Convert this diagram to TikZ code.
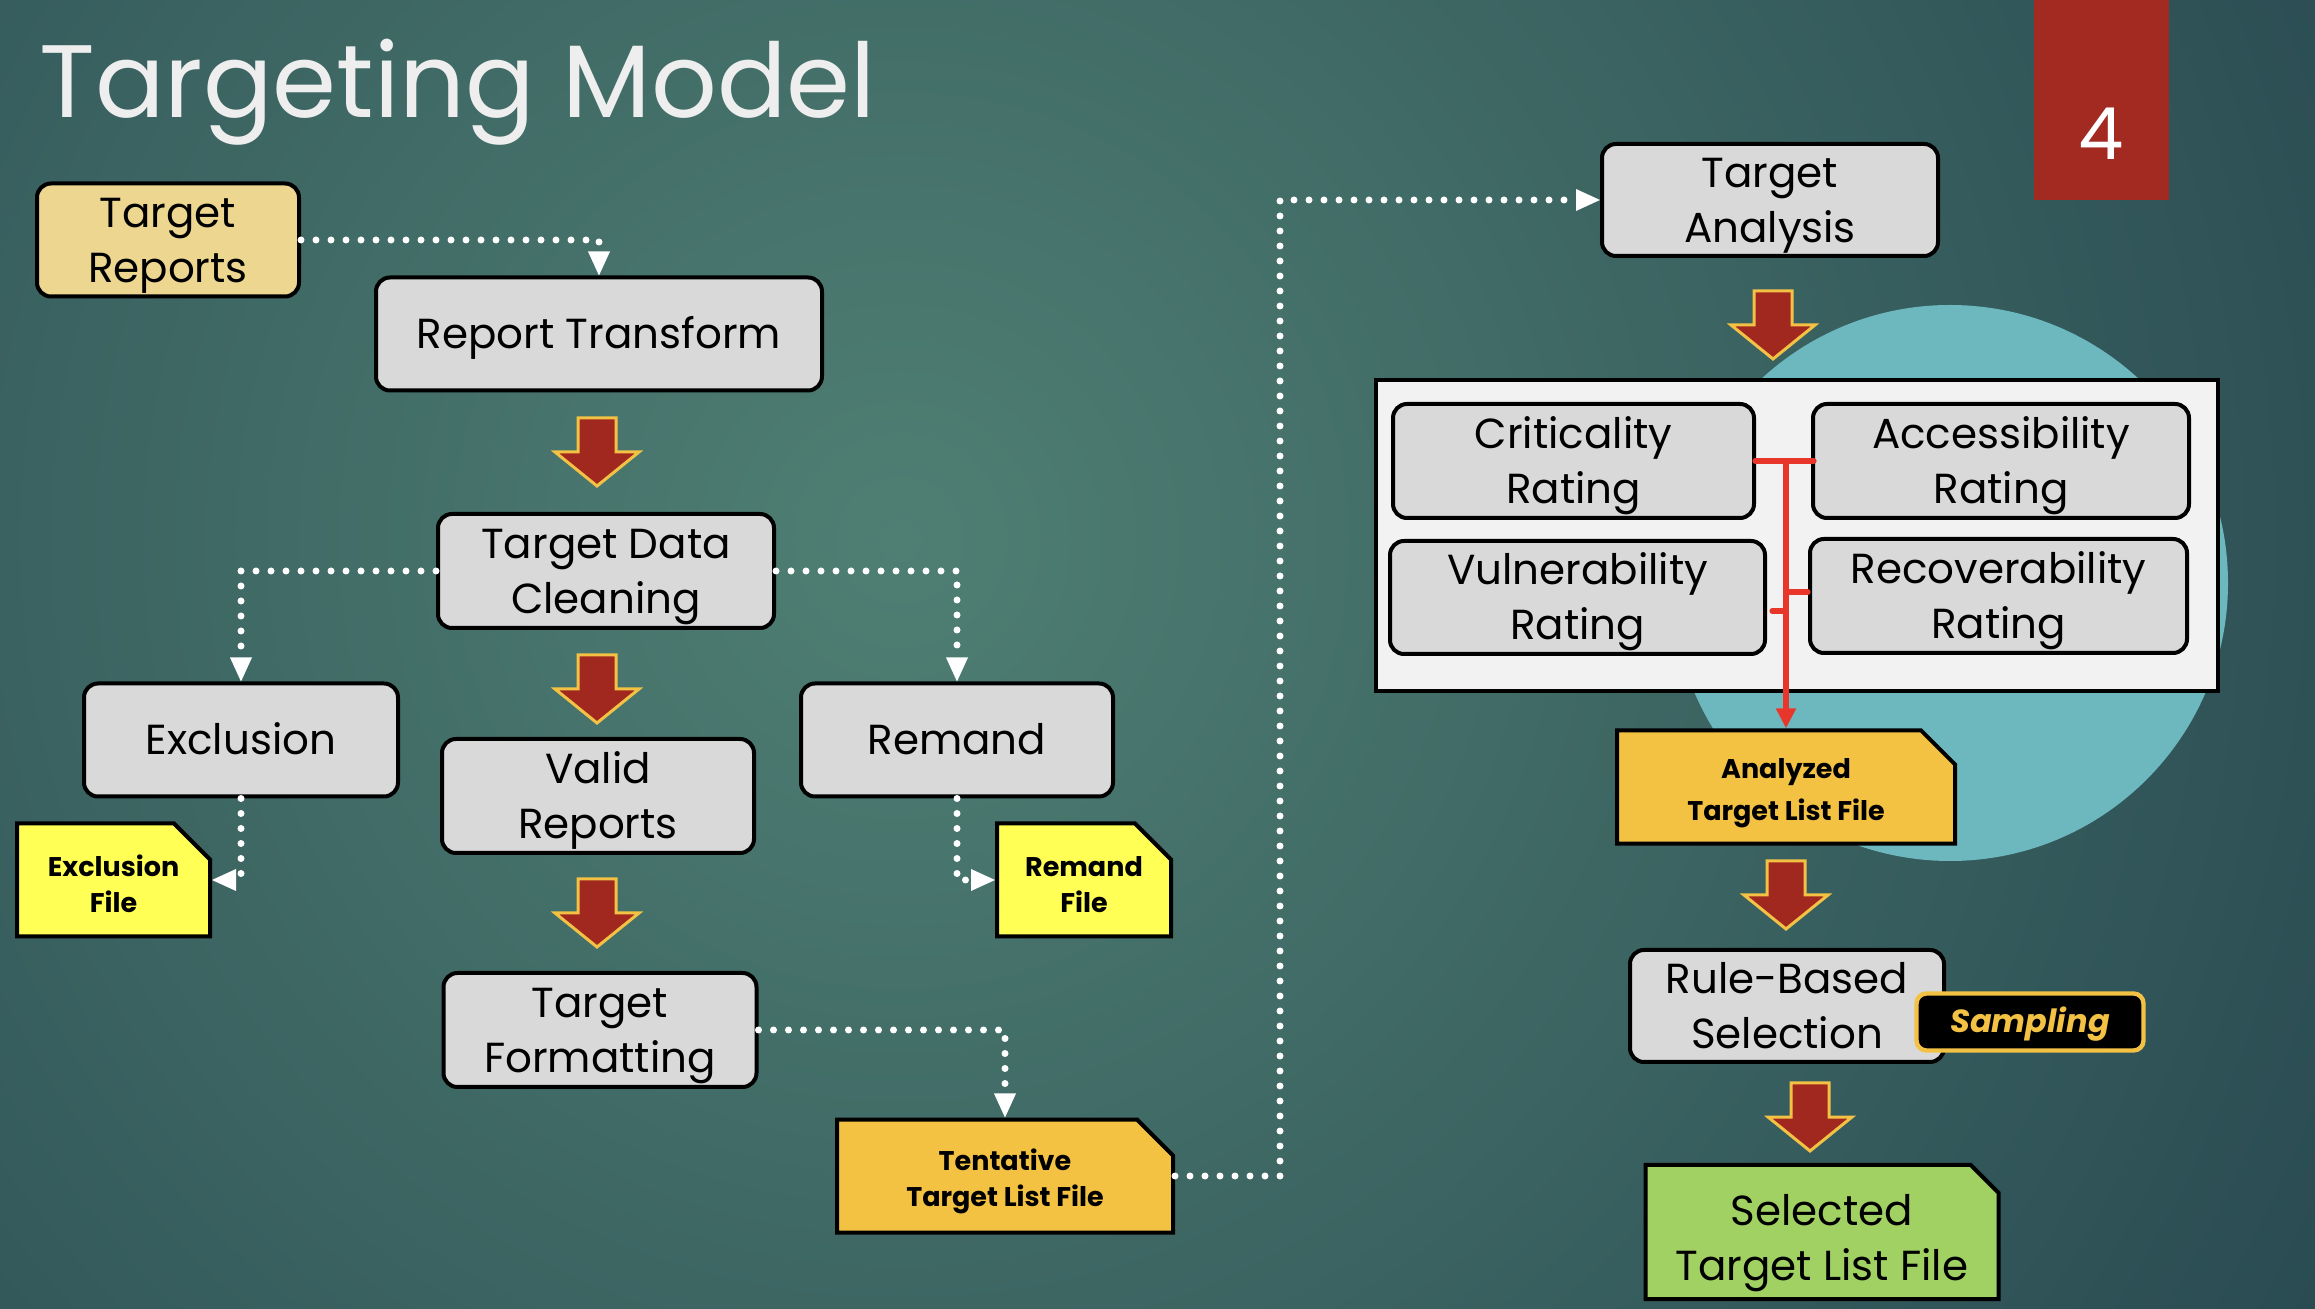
\documentclass[tikz,border=0pt]{standalone}
\usepackage{fontspec}
\setmainfont{Poppins}
\usetikzlibrary{arrows.meta,shapes.misc}
\definecolor{bgdark}{HTML}{1E3B48}
\definecolor{bglight}{HTML}{4F7F73}
\definecolor{boxgray}{HTML}{D9D9D9}
\definecolor{khaki}{HTML}{EDD690}
\definecolor{fileyellow}{HTML}{FFFF55}
\definecolor{fileorange}{HTML}{F4C243}
\definecolor{filegreen}{HTML}{A1D063}
\definecolor{tabred}{HTML}{A22A21}
\definecolor{arrowred}{HTML}{A0281F}
\definecolor{arrowgold}{HTML}{F3C244}
\definecolor{linered}{HTML}{E8372A}
\definecolor{teal}{HTML}{6CB8BE}
\definecolor{panel}{HTML}{F2F2F2}
\definecolor{titlewhite}{HTML}{EEEEEE}
% fixed line metrics (struts)
\newcommand\lx{\rule[-6.45pt]{0pt}{27.5pt}}
\newcommand\fx{\rule[-1.55pt]{0pt}{17.7pt}}
\newcommand\gx{\rule[-0.5pt]{0pt}{27.5pt}}
\newcommand\smx{\rule[-4pt]{0pt}{19.2pt}}
\begin{document}
\begin{tikzpicture}[x=0.5pt,y=-0.5pt,
  proc/.style={draw=black, line width=2pt, fill=boxgray, rounded corners=7pt, align=center,
    inner sep=0pt, text=black, font=\fontsize{21}{27.5}\selectfont},
  filebox/.style={chamfered rectangle, chamfered rectangle corners=north east,
    chamfered rectangle xsep=9pt, chamfered rectangle ysep=9pt, draw=black, line width=2pt,
    align=center, inner sep=0pt, text=black, font=\bfseries\fontsize{13.5}{17.7}\selectfont},
  dotconn/.style={draw=white, line width=3.5pt, line cap=round, dash pattern=on 0pt off 7.5pt,
    -{Triangle[length=12pt,width=11pt,fill=white,line width=0pt]}},
  redconn/.style={draw=linered, line width=2.6pt, line cap=round},
  blockarrow/.pic={\draw[fill=arrowred, draw=arrowgold, line width=1.5pt, line join=miter]
    (-19,0) -- (19,0) -- (19,34) -- (42,34) -- (0,68) -- (-42,34) -- (-19,34) -- cycle;}
]
\useasboundingbox (0,0) rectangle (2315,1309);
\fill[bgdark] (0,0) rectangle (2315,1309);
\begin{scope}
  \clip (0,0) rectangle (2315,1309);
  \shade[inner color=bglight, outer color=bgdark] (900,540) circle[radius=1050pt];
\end{scope}

% title and tab
\node[anchor=base west, inner sep=0pt, text=titlewhite, font=\fontsize{51.5}{60}\selectfont] (title) at (39,118) {Targeting Model};
\fill[tabred] (2034,0) rectangle (2169,200);
\node[text=white, font=\fontsize{36}{40}\selectfont, inner sep=0pt] (pagenum) at (2101,134) {4};

% teal circle
\fill[teal] (1950,583) circle[radius=139pt];

% left column
\node[proc, fill=khaki, minimum width=131pt, minimum height=56.5pt] (tr) at (168,240) {\lx Target\\\lx Reports};
\node[proc, minimum width=223pt, minimum height=56.5pt] (rt) at (599,334) {\lx Report Transform};
\node[proc, minimum width=168pt, minimum height=57pt] (tdc) at (606,571) {\lx Target Data\\\lx Cleaning};
\node[proc, minimum width=157pt, minimum height=56.5pt] (excl) at (241,740) {\lx Exclusion};
\node[proc, minimum width=156pt, minimum height=57pt] (valid) at (598,796) {\lx Valid\\\lx Reports};
\node[proc, minimum width=156pt, minimum height=56.5pt] (remand) at (957,740) {\lx Remand};
\node[filebox, fill=fileyellow, minimum width=96.5pt, minimum height=56.5pt] (exfile) at (113.5,880) {\fx Exclusion\\\fx File};
\node[filebox, fill=fileyellow, minimum width=87pt, minimum height=56.5pt] (refile) at (1084,880) {\fx Remand\\\fx File};
\node[proc, minimum width=156.5pt, minimum height=57pt] (tform) at (600,1030) {\lx Target\\\lx Formatting};
\node[filebox, fill=fileorange, minimum width=168pt, minimum height=56.5pt] (tent) at (1005,1176) {\fx Tentative\\\fx Target List File};

% right column
\node[proc, minimum width=168pt, minimum height=56pt] (ta) at (1770,200) {\lx Target\\\lx Analysis};
\node[draw=black, line width=1.6pt, fill=panel, minimum width=421pt, minimum height=155.5pt, inner sep=0pt] (panelbox) at (1797,535.5) {};
\node[proc, minimum width=180.5pt, minimum height=57pt] (crit) at (1573.5,461) {\lx Criticality\\\lx Rating};
\node[proc, minimum width=188pt, minimum height=57pt] (access) at (2001,461) {\lx Accessibility\\\lx Rating};
\node[proc, minimum width=187.5pt, minimum height=56.5pt] (vuln) at (1577.5,597.5) {\lx Vulnerability\\\lx Rating};
\node[proc, minimum width=188.5pt, minimum height=57pt] (recov) at (1998.5,596) {\lx Recoverability\\\lx Rating};
\node[filebox, fill=fileorange, minimum width=169pt, minimum height=56pt, chamfered rectangle ysep=8pt] (analyzed) at (1786,787) {\fx Analyzed\\\fx Target List File};
\node[proc, minimum width=157pt, minimum height=56pt] (rbs) at (1787,1006) {\lx Rule-Based\\\lx Selection};
\node[draw=arrowgold, line width=2.2pt, fill=black, rounded corners=5pt, minimum width=113.5pt, minimum height=28.5pt,
  inner sep=0pt, text=arrowgold, font=\bfseries\itshape\fontsize{16}{19.2}\selectfont] (sampling) at (2030,1022) {\smx Sampling};
\node[filebox, fill=filegreen, font=\fontsize{21}{27.5}\selectfont, minimum width=176.5pt, minimum height=65pt,
  chamfered rectangle xsep=10.5pt, chamfered rectangle ysep=3.5pt] (selected) at (1822,1232) {\gx Selected\\\gx Target List File};

% block arrows
\pic at (597,418) {blockarrow};
\pic at (597,655) {blockarrow};
\pic at (597,879) {blockarrow};
\pic at (1773,291) {blockarrow};
\pic at (1786,861) {blockarrow};
\pic at (1810,1083) {blockarrow};

% dotted connectors
\draw[dotconn] (tr.east) -| (rt.north);
\draw[dotconn] (tdc.west) -| (excl.north);
\draw[dotconn] (tdc.east) -| (remand.north);
\draw[dotconn] (excl.south) |- (exfile.east);
\draw[dotconn] (remand.south) |- (refile.west);
\draw[dotconn] (tform.east) -| (tent.north);
\draw[dotconn] (tent.east) -- ++(105,0) |- (ta.west);

% red connectors
\draw[redconn] ([xshift=-0.5pt]crit.east) -- ([xshift=1.5pt]access.west);
\draw[redconn] (recov.west |- 0,592) -- (analyzed.north |- 0,592);
\draw[redconn] ([xshift=2.5pt]vuln.east |- 0,611) -- (analyzed.north |- 0,611);
\draw[redconn, -{Triangle[length=10pt,width=9.5pt]}] (analyzed.north |- crit.east) -- (analyzed.north);
\end{tikzpicture}
\end{document}
